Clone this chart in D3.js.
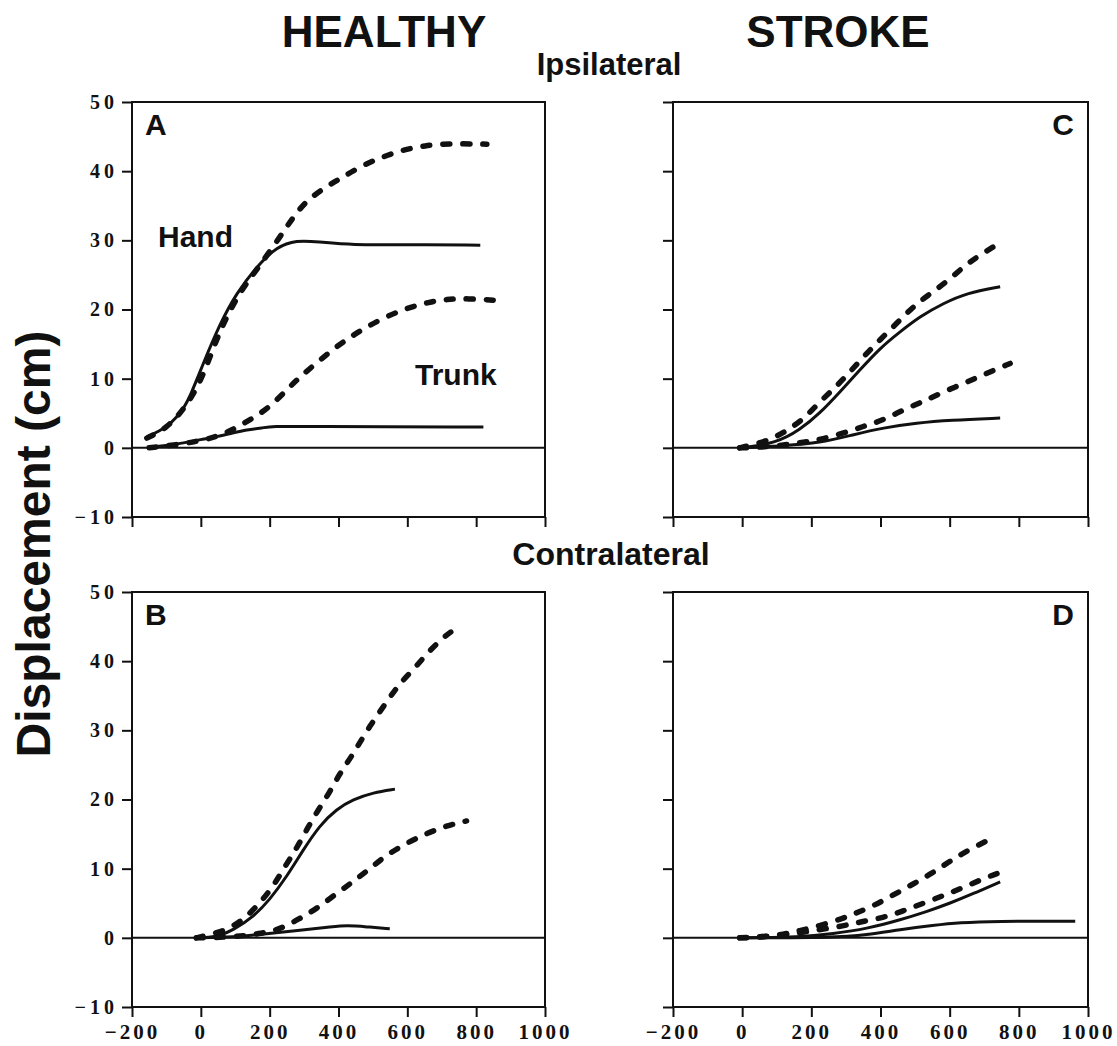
<!DOCTYPE html>
<html>
<head>
<meta charset="utf-8">
<script src="https://cdn.jsdelivr.net/npm/d3@7"></script>
<style>
  body { margin: 0; background: #fff; }
  svg { display: block; }
</style>
</head>
<body>
<div id="chart"></div>
<script>
// Axis ticks
const xTicks = [-200, 0, 200, 400, 600, 800, 1000];
const yTicks = [-10, 0, 10, 20, 30, 40, 50];

// Panel A - healthy, ipsilateral
const aHandSolid = [[-157,1.6],[-120,2.4],[-85,3.6],[-55,5.3],[-31,7.4],[7,12.2],[56,18.0],[104,22.4],[162,26.2],[221,29.1],[279,30.0],[337,29.8],[443,29.3],[579,29.4],[812,29.3]];
const aHandDashed = [[-157,1.4],[-100,2.8],[-50,5.5],[-2,9.3],[40,15.0],[75,19.0],[120,23.0],[162,25.7],[230,30.5],[269,33.4],[308,35.8],[366,37.8],[414,39.2],[472,40.9],[530,42.1],[589,43.1],[652,43.7],[715,44.0],[831,43.9]];
const aTrunkSolid = [[-157,0.1],[-100,0.3],[-51,0.7],[0,1.2],[46,1.6],[90,2.1],[133,2.6],[180,2.9],[211,3.1],[289,3.1],[821,3.0]];
const aTrunkDashed = [[-150,0.0],[-60,0.5],[17,1.2],[75,2.1],[133,3.8],[192,5.5],[250,8.4],[289,10.3],[337,12.3],[385,14.3],[434,16.0],[482,17.5],[540,19.0],[599,20.2],[657,21.0],[715,21.5],[773,21.6],[865,21.3]];

// Panel C - stroke, ipsilateral
const cHandSolid = [[0,0],[99,0.7],[167,2.6],[225,5.0],[283,8.1],[341,11.3],[398,14.4],[457,16.8],[514,19.0],[582,20.9],[650,22.4],[746,23.3]];
const cHandDashed = [[-7,0],[70,0.9],[128,2.4],[181,4.3],[225,6.7],[273,8.9],[312,11.0],[355,13.4],[398,15.6],[447,18.0],[490,20.2],[538,22.1],[592,24.0],[640,26.2],[688,27.9],[741,29.5]];
const cTrunkSolid = [[0,0],[119,0.3],[225,0.7],[321,1.9],[408,2.9],[505,3.6],[601,4.0],[746,4.3]];
const cTrunkDashed = [[-7,0],[70,0.1],[167,0.7],[225,1.2],[292,2.1],[350,3.1],[408,4.0],[466,5.5],[524,6.7],[582,8.1],[650,9.5],[708,10.8],[775,12.2]];

// Panel B - healthy, contralateral
const bHandSolid = [[-13,0],[45,0.1],[94,1.1],[152,3.0],[200,5.5],[249,8.8],[297,12.7],[346,16.3],[394,18.6],[442,20.0],[501,21.0],[564,21.5]];
const bHandDashed = [[-13,0],[74,1.0],[128,2.8],[171,5.0],[210,7.4],[244,10.3],[278,12.9],[307,15.6],[341,18.5],[375,21.1],[404,23.8],[438,26.2],[472,29.1],[506,31.7],[544,34.4],[578,36.8],[622,39.0],[665,41.6],[714,43.8],[729,44.3]];
const bTrunkSolid = [[-13,0],[94,0.1],[191,0.6],[288,1.1],[384,1.6],[423,1.8],[481,1.6],[549,1.3]];
const bTrunkDashed = [[-13,0],[94,0.1],[171,0.6],[229,1.2],[288,2.8],[336,4.2],[394,6.4],[442,8.1],[491,10.0],[540,12.0],[598,13.7],[656,15.1],[714,16.2],[772,16.9]];

// Panel D - stroke, contralateral
const dHandSolid = [[0,0],[167,0.1],[263,0.6],[360,1.3],[457,2.6],[534,3.8],[601,5.0],[669,6.4],[746,8.1]];
const dHandDashed = [[-7,0],[70,0.1],[138,0.7],[196,1.4],[263,2.3],[321,3.4],[379,4.6],[437,6.2],[495,7.8],[548,9.3],[601,11.1],[654,12.7],[727,14.5]];
const dTrunkSolid = [[0,0],[263,0.05],[360,0.4],[457,1.2],[553,1.8],[630,2.2],[727,2.4],[963,2.4]];
const dTrunkDashed = [[-7,0],[128,0.4],[196,1.0],[283,1.6],[341,2.3],[408,2.9],[466,3.9],[529,5.1],[592,6.3],[650,7.5],[708,8.8],[761,9.7]];

const W = 1117, H = 1046;
const SANS = "'Liberation Sans', Arial, sans-serif";
const SERIF = "'Liberation Serif', 'Times New Roman', serif";

const svg = d3.select('#chart').append('svg')
  .attr('width', W)
  .attr('height', H);

svg.append('rect').attr('width', W).attr('height', H).attr('fill', '#fff');

// panel boxes
const panels = [
  { id: 'A', left: 132, top: 102, right: 545, bottom: 517, series: [aHandSolid, aTrunkSolid], dashed: [aHandDashed, aTrunkDashed], xLabels: false, yLabels: true, corner: 'left' },
  { id: 'C', left: 673, top: 102, right: 1088, bottom: 517, series: [cHandSolid, cTrunkSolid], dashed: [cHandDashed, cTrunkDashed], xLabels: false, yLabels: false, corner: 'right' },
  { id: 'B', left: 132, top: 592, right: 545, bottom: 1007, series: [bHandSolid, bTrunkSolid], dashed: [bHandDashed, bTrunkDashed], xLabels: true, yLabels: true, corner: 'left' },
  { id: 'D', left: 673, top: 592, right: 1088, bottom: 1007, series: [dHandSolid, dTrunkSolid], dashed: [dHandDashed, dTrunkDashed], xLabels: true, yLabels: false, corner: 'right' }
];

function drawPanel(p) {
  const x = d3.scaleLinear().domain([-200, 1000]).range([p.left, p.right]);
  const y = d3.scaleLinear().domain([-10, 50]).range([p.bottom, p.top]);
  const g = svg.append('g').attr('class', 'panel panel-' + p.id);

  // y axis
  const yAxis = d3.axisLeft(y).tickValues(yTicks).tickSize(10).tickPadding(4)
    .tickFormat(p.yLabels ? d3.format('d') : () => '');
  const ya = g.append('g').attr('transform', `translate(${p.left},0)`).call(yAxis);
  ya.select('.domain').remove();
  ya.selectAll('line').attr('stroke', '#111').attr('stroke-width', 2);
  ya.selectAll('text')
    .attr('font-family', SERIF).attr('font-weight', 'bold')
    .attr('font-size', 20).attr('letter-spacing', 4)
    .attr('fill', '#111');

  // x axis
  const xAxis = d3.axisBottom(x).tickValues(xTicks).tickSize(10).tickPadding(7)
    .tickFormat(p.xLabels ? d3.format('d') : () => '');
  const xa = g.append('g').attr('transform', `translate(0,${p.bottom})`).call(xAxis);
  xa.select('.domain').remove();
  xa.selectAll('line').attr('stroke', '#111').attr('stroke-width', 2);
  xa.selectAll('text')
    .attr('font-family', SERIF).attr('font-weight', 'bold')
    .attr('font-size', 21).attr('letter-spacing', 3)
    .attr('fill', '#111');

  // frame
  g.append('rect')
    .attr('x', p.left).attr('y', p.top)
    .attr('width', p.right - p.left).attr('height', p.bottom - p.top)
    .attr('fill', 'none').attr('stroke', '#111').attr('stroke-width', 2);

  // zero line
  g.append('line')
    .attr('x1', p.left).attr('x2', p.right)
    .attr('y1', y(0)).attr('y2', y(0))
    .attr('stroke', '#111').attr('stroke-width', 2);

  const line = d3.line()
    .x(d => x(d[0]))
    .y(d => y(d[1]))
    .curve(d3.curveBasis);

  // dashed curves
  g.selectAll('path.dashed')
    .data(p.dashed)
    .join('path')
    .attr('class', 'dashed')
    .attr('d', line)
    .attr('fill', 'none')
    .attr('stroke', '#111')
    .attr('stroke-width', 5.5)
    .attr('stroke-linecap', 'round')
    .attr('stroke-dasharray', '7,13');

  // solid curves
  g.selectAll('path.solid')
    .data(p.series)
    .join('path')
    .attr('class', 'solid')
    .attr('d', line)
    .attr('fill', 'none')
    .attr('stroke', '#111')
    .attr('stroke-width', 3);

  // panel letter
  g.append('text')
    .attr('x', p.corner === 'left' ? p.left + 13 : p.right - 14)
    .attr('y', p.top + 33)
    .attr('text-anchor', p.corner === 'left' ? 'start' : 'end')
    .attr('font-family', SANS).attr('font-weight', 'bold')
    .attr('font-size', 30).attr('fill', '#111')
    .text(p.id);
}

panels.forEach(drawPanel);

// curve labels in panel A
svg.append('text')
  .attr('x', 158).attr('y', 247)
  .attr('font-family', SANS).attr('font-weight', 'bold')
  .attr('font-size', 30).attr('fill', '#111')
  .text('Hand');

svg.append('text')
  .attr('x', 415).attr('y', 385)
  .attr('font-family', SANS).attr('font-weight', 'bold')
  .attr('font-size', 30).attr('fill', '#111')
  .text('Trunk');

// column titles
svg.append('text')
  .attr('x', 384).attr('y', 47)
  .attr('text-anchor', 'middle')
  .attr('font-family', SANS).attr('font-weight', 'bold')
  .attr('font-size', 44).attr('fill', '#111')
  .text('HEALTHY');

svg.append('text')
  .attr('x', 838).attr('y', 47)
  .attr('text-anchor', 'middle')
  .attr('font-family', SANS).attr('font-weight', 'bold')
  .attr('font-size', 44).attr('fill', '#111')
  .text('STROKE');

// row titles
svg.append('text')
  .attr('x', 609).attr('y', 75)
  .attr('text-anchor', 'middle')
  .attr('font-family', SANS).attr('font-weight', 'bold')
  .attr('font-size', 31).attr('fill', '#111')
  .text('Ipsilateral');

svg.append('text')
  .attr('x', 611).attr('y', 565)
  .attr('text-anchor', 'middle')
  .attr('font-family', SANS).attr('font-weight', 'bold')
  .attr('font-size', 32).attr('fill', '#111')
  .text('Contralateral');

// y axis title
svg.append('text')
  .attr('transform', 'translate(50,544) rotate(-90)')
  .attr('text-anchor', 'middle')
  .attr('font-family', SANS).attr('font-weight', 'bold')
  .attr('font-size', 48).attr('fill', '#111')
  .text('Displacement (cm)');
</script>
</body>
</html>
